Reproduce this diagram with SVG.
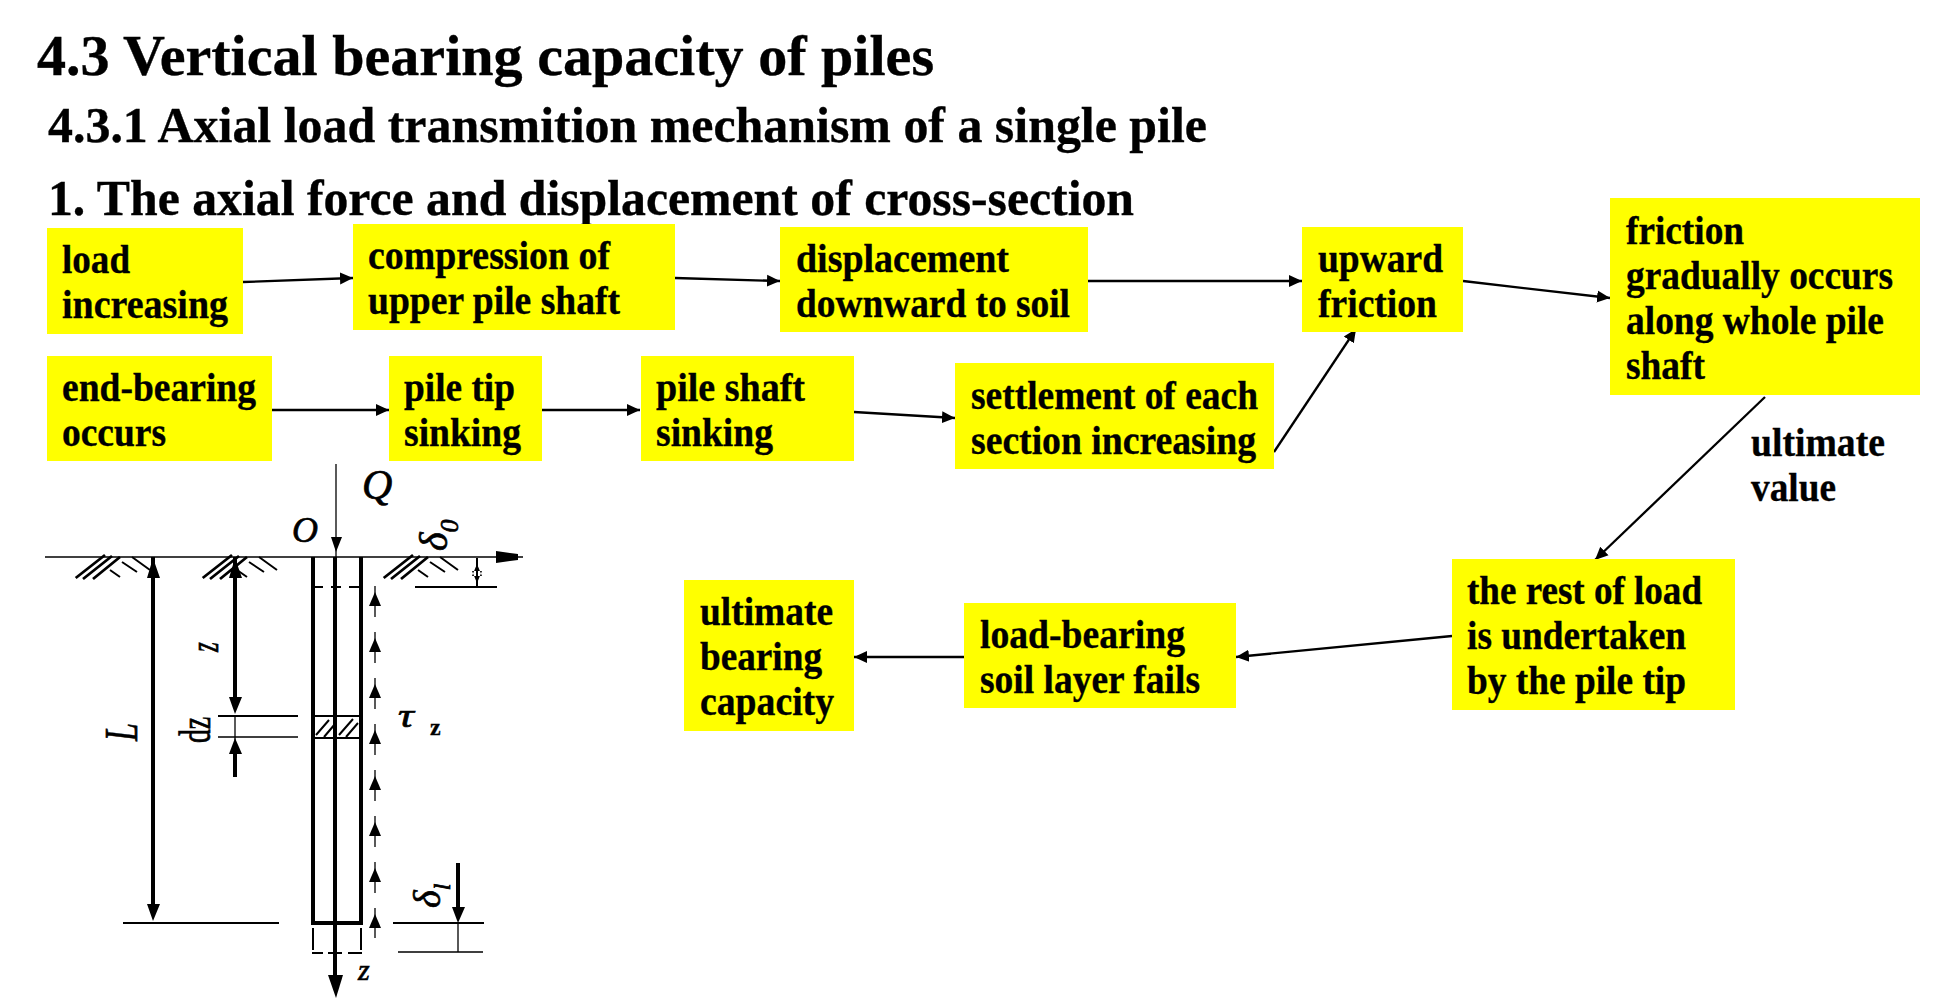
<svg xmlns="http://www.w3.org/2000/svg" width="1948" height="1005" viewBox="0 0 1948 1005">
<style>
.t{font-family:"Liberation Serif","Times New Roman",serif;font-weight:700;fill:#000;stroke:#000;stroke-width:.35}
.h1{font-size:58px}.h2{font-size:50px}.b{font-size:40px}
.box{fill:#ff0}
.c{fill:none;stroke:#000;stroke-width:2.3;marker-end:url(#a)}
.d{fill:none;stroke:#000;stroke-width:2}
.thick{fill:none;stroke:#000;stroke-width:4}
.thin{fill:none;stroke:#000;stroke-width:1.3}
.i{font-family:"Liberation Serif",serif;font-style:italic;fill:#000;stroke:#000;stroke-width:.7}
</style>
<defs>
<marker id="a" markerUnits="userSpaceOnUse" markerWidth="14" markerHeight="14" refX="13" refY="7" orient="auto"><path d="M0 1L13 7L0 13z" fill="#000"/></marker>
<g id="hatch"><path d="M75.700 578L105 555M83 579L112 556M93 579L120 557" stroke="#000" stroke-width="2.8" fill="none"/><path d="M110 570L120 577M122 562L137 572M132 557L150 570" stroke="#000" stroke-width="2" fill="none"/></g>
<path id="tau" d="M369 14L375 0L381 14z" fill="#000"/>
</defs>
<rect width="1948" height="1005" fill="#fff"/>
<g id="titles">
<text class="t h1" x="37" y="75" textLength="897" lengthAdjust="spacingAndGlyphs">4.3 Vertical bearing capacity of piles</text>
<text class="t h2" x="48" y="142" textLength="1159" lengthAdjust="spacingAndGlyphs">4.3.1 Axial load transmition mechanism of a single pile</text>
<text class="t h2" x="48" y="215" textLength="1086" lengthAdjust="spacingAndGlyphs">1. The axial force and displacement of cross-section</text>
</g>
<g id="connectors">
<path class="c" d="M243 282L353 278"/>
<path class="c" d="M675 278L780 281"/>
<path class="c" d="M1088 281H1302"/>
<path class="c" d="M1463 281L1610 298"/>
<path class="c" d="M272 410H389"/>
<path class="c" d="M541 410H640"/>
<path class="c" d="M854 412L955 418"/>
<path class="c" d="M1274 452L1356 329"/>
<path class="c" d="M1765 397L1595 560"/>
<path class="c" d="M1452 636L1236 657"/>
<path class="c" d="M964 657H854"/>
</g>
<g id="n1"><rect class="box" x="47" y="228" width="196" height="106"/><text class="t b" x="62" y="273" textLength="68" lengthAdjust="spacingAndGlyphs">load</text><text class="t b" x="62" y="318" textLength="166" lengthAdjust="spacingAndGlyphs">increasing</text></g>
<g id="n2"><rect class="box" x="353" y="224" width="322" height="106"/><text class="t b" x="368" y="269" textLength="242" lengthAdjust="spacingAndGlyphs">compression of</text><text class="t b" x="368" y="314" textLength="252" lengthAdjust="spacingAndGlyphs">upper pile shaft</text></g>
<g id="n3"><rect class="box" x="780" y="227" width="308" height="105"/><text class="t b" x="796" y="272" textLength="213" lengthAdjust="spacingAndGlyphs">displacement</text><text class="t b" x="796" y="317" textLength="274" lengthAdjust="spacingAndGlyphs">downward to soil</text></g>
<g id="n4"><rect class="box" x="1302" y="227" width="161" height="105"/><text class="t b" x="1318" y="272" textLength="125" lengthAdjust="spacingAndGlyphs">upward</text><text class="t b" x="1318" y="317" textLength="119" lengthAdjust="spacingAndGlyphs">friction</text></g>
<g id="n5"><rect class="box" x="1610" y="198" width="310" height="197"/><text class="t b" x="1626" y="244" textLength="118" lengthAdjust="spacingAndGlyphs">friction</text><text class="t b" x="1626" y="289" textLength="267" lengthAdjust="spacingAndGlyphs">gradually occurs</text><text class="t b" x="1626" y="334" textLength="258" lengthAdjust="spacingAndGlyphs">along whole pile</text><text class="t b" x="1626" y="379" textLength="79" lengthAdjust="spacingAndGlyphs">shaft</text></g>
<g id="n6"><rect class="box" x="47" y="356" width="225" height="105"/><text class="t b" x="62" y="401" textLength="194" lengthAdjust="spacingAndGlyphs">end-bearing</text><text class="t b" x="62" y="446" textLength="104" lengthAdjust="spacingAndGlyphs">occurs</text></g>
<g id="n7"><rect class="box" x="389" y="356" width="153" height="105"/><text class="t b" x="404" y="401" textLength="111" lengthAdjust="spacingAndGlyphs">pile tip</text><text class="t b" x="404" y="446" textLength="117" lengthAdjust="spacingAndGlyphs">sinking</text></g>
<g id="n8"><rect class="box" x="641" y="356" width="213" height="105"/><text class="t b" x="656" y="401" textLength="149" lengthAdjust="spacingAndGlyphs">pile shaft</text><text class="t b" x="656" y="446" textLength="117" lengthAdjust="spacingAndGlyphs">sinking</text></g>
<g id="n9"><rect class="box" x="955" y="363" width="319" height="106"/><text class="t b" x="971" y="409" textLength="287" lengthAdjust="spacingAndGlyphs">settlement of each</text><text class="t b" x="971" y="454" textLength="285" lengthAdjust="spacingAndGlyphs">section increasing</text></g>
<g id="n10"><rect class="box" x="1452" y="559" width="283" height="151"/><text class="t b" x="1467" y="604" textLength="235" lengthAdjust="spacingAndGlyphs">the rest of load</text><text class="t b" x="1467" y="649" textLength="219" lengthAdjust="spacingAndGlyphs">is undertaken</text><text class="t b" x="1467" y="694" textLength="219" lengthAdjust="spacingAndGlyphs">by the pile tip</text></g>
<g id="n11"><rect class="box" x="964" y="603" width="272" height="105"/><text class="t b" x="980" y="648" textLength="205" lengthAdjust="spacingAndGlyphs">load-bearing</text><text class="t b" x="980" y="693" textLength="220" lengthAdjust="spacingAndGlyphs">soil layer fails</text></g>
<g id="n12"><rect class="box" x="684" y="580" width="170" height="151"/><text class="t b" x="700" y="625" textLength="133" lengthAdjust="spacingAndGlyphs">ultimate</text><text class="t b" x="700" y="670" textLength="122" lengthAdjust="spacingAndGlyphs">bearing</text><text class="t b" x="700" y="715" textLength="134" lengthAdjust="spacingAndGlyphs">capacity</text></g>
<g id="label"><text class="t b" x="1751" y="456" textLength="134" lengthAdjust="spacingAndGlyphs">ultimate</text><text class="t b" x="1751" y="501" textLength="85" lengthAdjust="spacingAndGlyphs">value</text></g>
<g id="pile">
<path class="thin" d="M45 557H523"/>
<path d="M496 551V563L518 560V554z" fill="#000"/>
<path class="thin" d="M336 464V557"/>
<path d="M331 537H342L336 552z" fill="#000"/>
<path class="thick" d="M313 557V923H361V557M335 557V985"/>
<path class="d" d="M313 923H361" stroke-width="2.5"/>
<path class="d" d="M313 587H361" stroke-dasharray="10 8" stroke-width="2.5"/>
<path class="d" stroke-width="2.5" d="M313 928V950M361 928V950M312 953H323M328 953H342M348 953H362"/>
<path d="M328 975H343L336 998z" fill="#000"/>
<path class="d" stroke-width="3" d="M313 716H361M313 738H361"/>
<path class="d" stroke-width="2.5" d="M316 735L329 720M324 737L335 724M339 735L353 719M346 737L358 723"/>
<path class="thick" d="M153 557V908M235 557V700M235 750V777"/>
<path class="thin" d="M235 716V740"/>
<path d="M147 904H160L153 921z M229 697H242L235 714z M147 578H160L153 558z M229 578H242L235 558z M229 754H242L235 738z" fill="#000"/>
<path class="d" stroke-width="2.2" d="M218 716H298M123 923H279M415 587H497M393 923H484"/>
<path class="thin" d="M218 737H298M458 923V952M398 952H483"/>
<path class="thick" d="M458 863V912"/>
<path d="M452 907H465L458 923z" fill="#000"/>
<path class="d" stroke-width="2.5" d="M477 558V587"/>
<path d="M472 576H482L477 564z M472 571H482L477 583z" fill="#000"/>
<path class="thin" d="M375 586V938" stroke-dasharray="31 15"/>
<use href="#tau" y="592"/><use href="#tau" y="638"/><use href="#tau" y="684"/><use href="#tau" y="730"/><use href="#tau" y="776"/><use href="#tau" y="822"/><use href="#tau" y="868"/><use href="#tau" y="914"/>
<use href="#hatch"/><use href="#hatch" x="127"/><use href="#hatch" x="308"/>
<text class="i" font-size="42" x="362" y="499">Q</text>
<text class="i" font-size="36" x="292" y="542">O</text>
<text class="i" font-size="40" transform="translate(447 551) rotate(-90)">δ<tspan font-size="26" dy="11">0</tspan></text>
<text class="i" font-size="46" transform="translate(137 741) rotate(-90) scale(.7 1)">L</text>
<text class="i" font-size="42" transform="translate(218 652) rotate(-90) scale(.6 1)">z</text>
<text class="i" font-size="44" style="font-style:normal" transform="translate(210 743) rotate(-90) scale(.63 1)">dz</text>
<text class="i" font-size="34" transform="translate(398 727) scale(1.3 1)">τ</text>
<text class="t" font-size="24" x="430" y="735">z</text>
<text class="i" font-size="38" transform="translate(440 908) rotate(-90)">δ<tspan font-size="24" dy="10">l</tspan></text>
<text class="i" font-size="30" x="358" y="980">z</text>
</g>
</svg>
